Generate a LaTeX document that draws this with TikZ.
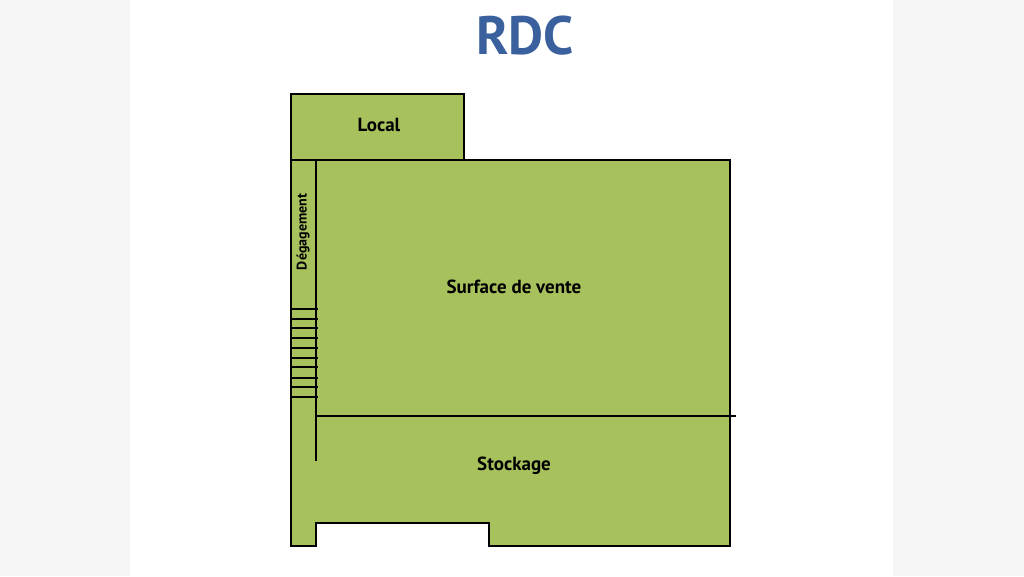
\documentclass[tikz,border=0pt]{standalone}
\usepackage{fontspec}
\setmainfont{PT Sans}
\definecolor{plan}{HTML}{A7C15C}
\definecolor{titre}{HTML}{3A609E}
\tikzset{mur/.style={line width=1.6pt, black},
         piece/.style={font=\bfseries\fontsize{19}{21}\selectfont}}
\begin{document}
\begin{tikzpicture}[x=1pt,y=-1pt]
\fill[black!4] (0,0) rectangle (1024,576);
\fill[white] (130,0) rectangle (893,576);
\useasboundingbox (0,0) rectangle (1024,576);
\node[font=\bfseries\fontsize{54}{60}\selectfont, text=titre] (rdc) at (525,36) {RDC};

% local
\draw[mur, fill=plan] (291,94) rectangle (464,160);
% volume principal
\draw[mur, fill=plan] (291,160) -- (291,546) -- (316,546) -- (316,523) -- (489,523)
   -- (489,546) -- (730,546) -- (730,160) -- cycle;
\draw[mur] (464,160.5) -- (474,160.5);
\draw[mur] (316,160) -- (316,461);
\draw[mur] (316,416) -- (736,416);

% escalier
\foreach \y in {309,319,328,338,348,358,367,378,387,397}
    \draw[line width=1.4pt] (291,\y) -- (318,\y);

\node[piece] (local) at (379,125) {Local};
\node[piece] (vente) at (514,287) {Surface de vente};
\node[piece] (stock) at (514,466) {Stockage};
\node[piece, font=\bfseries\fontsize{14}{16}\selectfont, rotate=90] (degag) at (303,232) {Dégagement};
\end{tikzpicture}
\end{document}
